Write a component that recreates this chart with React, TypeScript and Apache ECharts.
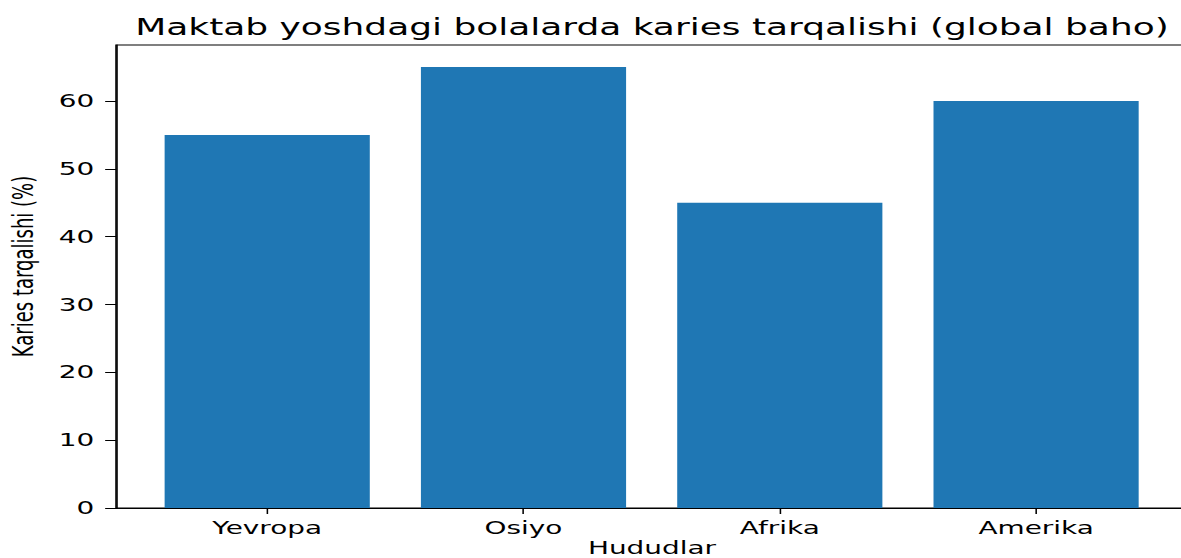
import React, { useEffect, useRef } from "react";
import * as echarts from "echarts";

const categories = ["Yevropa", "Osiyo", "Afrika", "Amerika"];
const values = [55, 65, 45, 60];
const yTicks = [0, 10, 20, 30, 40, 50, 60];
const xTicks = [0, 1, 2, 3];

const TITLE = "Maktab yoshdagi bolalarda karies tarqalishi (global baho)";
const X_NAME = "Hududlar";
const Y_NAME = "Karies tarqalishi (%)";

const S = 1.55; // horizontal stretch
const PAGE_W = 1181;
const PAGE_H = 558;
const AXES_RIGHT = 1188; // scaled px
const W = AXES_RIGHT / S;
const GRID_LEFT = 116 / S;
const GRID_TOP = 45;
const GRID_BOTTOM = 50;
const X_MIN = -0.59;
const X_MAX = 3.59;
const Y_MAX = 68.25;
const FONT = "DejaVu Sans";

export default function App() {
  const ref = useRef<HTMLDivElement>(null);
  useEffect(() => {
    if (!ref.current) return;
    const chart = echarts.init(ref.current, null, { renderer: "svg" });
    const plotW = W - GRID_LEFT;
    const barW = (0.8 * plotW) / (X_MAX - X_MIN);
    chart.setOption({
      animation: false,
      backgroundColor: "#fff",
      title: {
        text: TITLE,
        left: GRID_LEFT + plotW / 2 - 5,
        textAlign: "center",
        top: 10,
        textStyle: { fontFamily: FONT, fontSize: 23.2, fontWeight: "normal", color: "#000" },
      },
      graphic: [
        {
          type: "text",
          x: GRID_LEFT + plotW / 2,
          y: PAGE_H - 1,
          style: {
            text: X_NAME,
            fontFamily: FONT,
            fontSize: 18,
            fill: "#000",
            align: "center",
            verticalAlign: "bottom",
          },
        },
      ],
      grid: {
        left: GRID_LEFT,
        right: 0,
        top: GRID_TOP,
        bottom: GRID_BOTTOM,
        show: true,
        borderColor: "#000",
        borderWidth: 1,
        containLabel: false,
        outerBoundsMode: "none",
      },
      xAxis: {
        type: "value",
        min: X_MIN,
        max: X_MAX,
        splitLine: { show: false },
        axisLine: { show: true, onZero: false, lineStyle: { color: "#000", width: 1 } },
        axisTick: { show: true, length: 6, customValues: xTicks, lineStyle: { color: "#000" } },
        axisLabel: {
          customValues: xTicks,
          margin: 11,
          fontFamily: FONT,
          fontSize: 18,
          color: "#000",
          formatter: (v: number) => categories[Math.round(v)] ?? "",
        },
      },
      yAxis: {
        type: "value",
        min: 0,
        max: Y_MAX,
        name: Y_NAME,
        nameLocation: "middle",
        nameGap: 51,
        nameTextStyle: { fontFamily: FONT, fontSize: 18, color: "#000", padding: [0, 0, 0, 20] },
        splitLine: { show: false },
        axisLine: { show: true, onZero: false, lineStyle: { color: "#000", width: 1 } },
        axisTick: { show: true, length: 7, customValues: yTicks, lineStyle: { color: "#000" } },
        axisLabel: {
          customValues: yTicks,
          margin: 14,
          fontFamily: FONT,
          fontSize: 18,
          color: "#000",
        },
      },
      series: [
        {
          type: "bar",
          data: values.map((v, i) => [i, v]),
          barWidth: barW,
          itemStyle: { color: "#1f77b4" },
        },
      ],
    });
    return () => chart.dispose();
  }, []);
  return (
    <div
      style={{
        position: "fixed",
        left: 0,
        top: 0,
        width: PAGE_W,
        height: PAGE_H,
        overflow: "hidden",
        background: "#fff",
      }}
    >
      <div
        ref={ref}
        style={{
          width: W,
          height: PAGE_H,
          transform: `scaleX(${S})`,
          transformOrigin: "0 0",
        }}
      />
    </div>
  );
}
